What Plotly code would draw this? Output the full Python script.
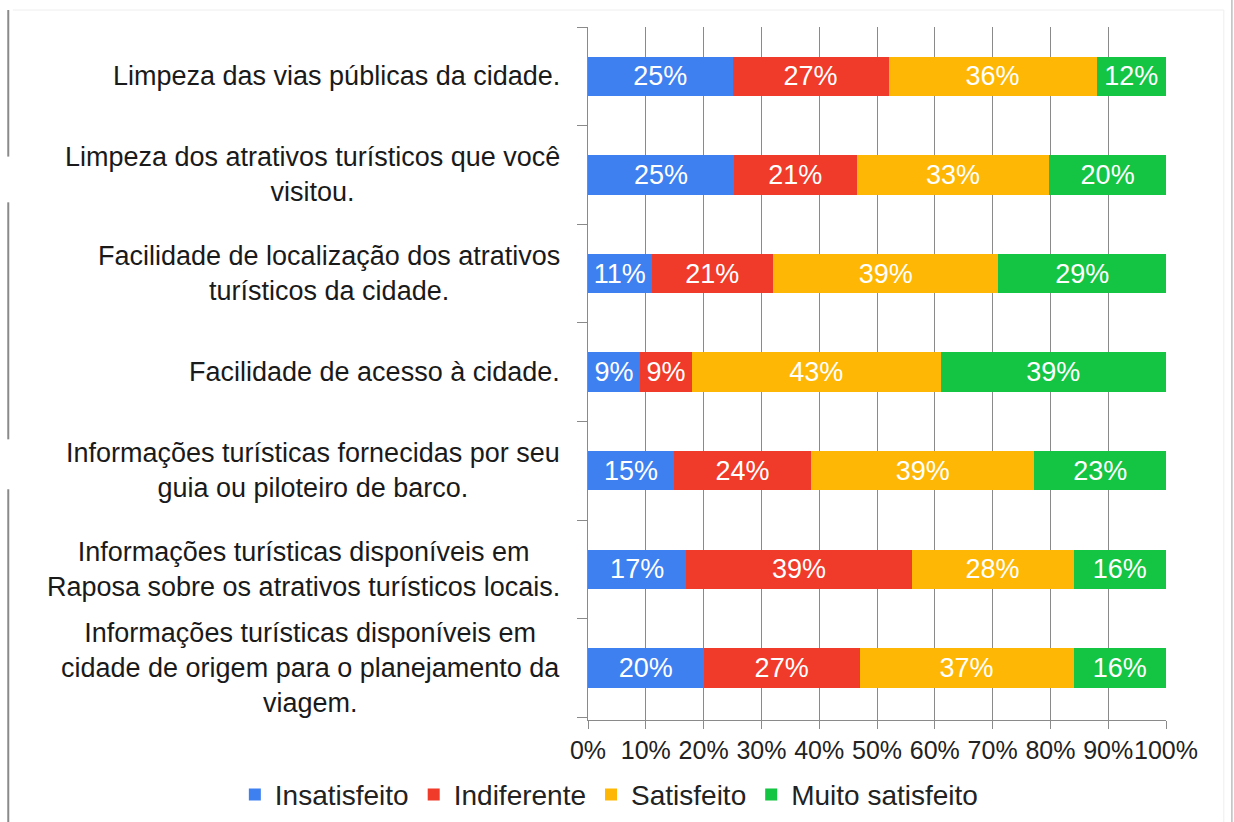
import plotly.graph_objects as go

categories = [
    "Limpeza das vias públicas da cidade.",
    "Limpeza dos atrativos turísticos que você<br>visitou.",
    "Facilidade de localização dos atrativos<br>turísticos da cidade.",
    "Facilidade de acesso à cidade.",
    "Informações turísticas fornecidas por seu<br>guia ou piloteiro de barco.",
    "Informações turísticas disponíveis em<br>Raposa sobre os atrativos turísticos locais.",
    "Informações turísticas disponíveis em<br>cidade de origem para o planejamento da<br>viagem.",
]
insatisfeito = [25, 25, 11, 9, 15, 17, 20]
indiferente = [27, 21, 21, 9, 24, 39, 27]
satisfeito = [36, 33, 39, 43, 39, 28, 37]
muito_satisfeito = [12, 20, 29, 39, 23, 16, 16]
x_ticks = [0, 10, 20, 30, 40, 50, 60, 70, 80, 90, 100]
x_tick_labels = [f"{v}%" for v in x_ticks]

series = [
    ("Insatisfeito", insatisfeito, "#3F80F0"),
    ("Indiferente", indiferente, "#F03A2A"),
    ("Satisfeito", satisfeito, "#FFB705"),
    ("Muito satisfeito", muito_satisfeito, "#14C443"),
]

ids = list(range(len(categories)))
FONT = "Liberation Sans, Arial, sans-serif"

fig = go.Figure()
for name, vals, color in series:
    fig.add_trace(go.Bar(
        y=ids, x=vals, name=name, orientation="h",
        marker=dict(color=color, line=dict(width=0)),
        text=[f"{v}%" for v in vals],
        textposition="inside", insidetextanchor="middle",
        textfont=dict(color="white", size=27, family=FONT),
        constraintext="none",
        width=0.4,
    ))

for i, c in zip(ids, categories):
    fig.add_annotation(
        x=-0.045, xref="paper", y=i, yref="y", text=c,
        showarrow=False, xanchor="right", yanchor="middle", align="center",
        font=dict(size=27, color="#1a1a1a", family=FONT),
    )

# scan frame lines (paper coords)
for y0, y1 in [(1.0245, 0.813), (0.747, 0.405), (0.333, -0.15)]:
    fig.add_shape(type="line", xref="paper", yref="paper",
                  x0=-1.003, x1=-1.003, y0=y0, y1=y1,
                  line=dict(color="#8a8a8a", width=2))
fig.add_shape(type="line", xref="paper", yref="paper",
              x0=1.114, x1=1.114, y0=1.04, y1=-0.15,
              line=dict(color="#bdbdbd", width=1.5))
fig.add_shape(type="line", xref="paper", yref="paper",
              x0=1.100, x1=1.100, y0=1.0245, y1=-0.15,
              line=dict(color="#eeeeee", width=1))
fig.add_shape(type="line", xref="paper", yref="paper",
              x0=-0.995, x1=1.100, y0=1.0245, y1=1.0245,
              line=dict(color="#eeeeee", width=1))

fig.update_layout(
    barmode="stack", barnorm="percent",
    width=1234, height=822,
    margin=dict(l=588, r=68, t=27, b=102, autoexpand=False),
    paper_bgcolor="white", plot_bgcolor="white",
    font=dict(family=FONT, color="#222222"),
    showlegend=True,
    legend=dict(orientation="h", xref="paper", yref="paper",
                x=-0.611, xanchor="left", y=-0.108, yanchor="middle",
                font=dict(size=28, color="#222222", family=FONT),
                itemwidth=30, traceorder="normal", entrywidth=0,
                bgcolor="rgba(0,0,0,0)"),
    xaxis=dict(range=[0, 100], tickvals=x_ticks, ticktext=x_tick_labels,
               tickangle=0,
               showgrid=True, gridcolor="#8a8a8a", gridwidth=1,
               showline=True, linecolor="#8a8a8a", linewidth=1,
               ticks="outside", ticklen=8, tickcolor="#8a8a8a",
               tickfont=dict(size=25, color="#222222", family=FONT),
               zeroline=False, fixedrange=True, automargin=False),
    yaxis=dict(type="category", tickvals=ids, autorange="reversed",
               showticklabels=False, tickson="boundaries",
               ticks="outside", ticklen=10, tickcolor="#8a8a8a",
               showline=True, linecolor="#8a8a8a", linewidth=1,
               showgrid=False, zeroline=False, automargin=False),
)

fig.write_html("out.html", config={"displayModeBar": False},
               post_script="document.body.style.margin='0px';")
